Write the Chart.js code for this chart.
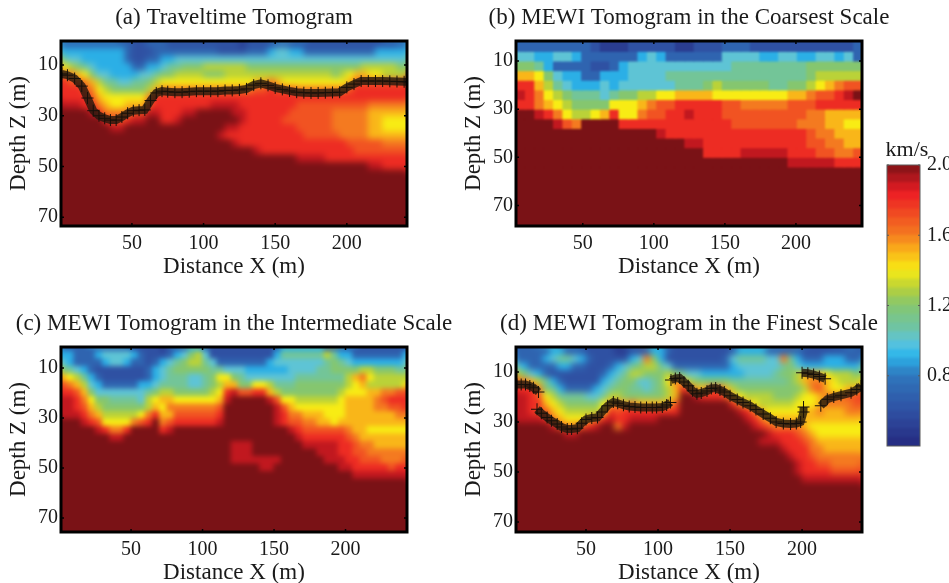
<!DOCTYPE html>
<html>
<head>
<meta charset="utf-8">
<script src="https://cdn.jsdelivr.net/npm/chart.js@4"></script>
<style>
  html, body { margin: 0; background: #fff; }
  body { position: relative; width: 949px; height: 583px; overflow: hidden; }
  canvas { position: absolute; filter: blur(0.4px); }
</style>
</head>
<body>
<canvas id="panelA"></canvas>
<canvas id="panelB"></canvas>
<canvas id="panelC"></canvas>
<canvas id="panelD"></canvas>
<canvas id="colorbar"></canvas>
<script>
// Axis ticks
const distanceTicks = [50, 100, 150, 200];
const depthTicks = [10, 30, 50, 70];
const velocityTicks = [0.8, 1.2, 1.6, 2.0];

// Cell centres (m) and row edges (m). a, c, d use the fine grid, b the coarse one
const fineX = [2.5,7.5,12.5,17.5,22.5,27.5,32.5,37.5,42.5,47.5,52.5,57.5,62.5,67.5,72.5,77.5,82.5,87.5,92.5,97.5,102.5,107.5,112.5,117.5,122.5,127.5,132.5,137.5,142.5,147.5,152.5,157.5,162.5,167.5,172.5,177.5,182.5,187.5,192.5,197.5,202.5,207.5,212.5,217.5,222.5,227.5,232.5,237.5,242.5];
const fineEdges = [0,3,6,9,12,15,18,21,24,27,30,33,36,39,42,45,48,51,54];
const coarseX = [6.3,12.9,19.5,26.1,32.7,39.3,45.9,52.5,59.1,65.7,72.3,78.9,85.5,92.1,98.7,105.3,111.9,118.5,125.1,131.7,138.3,144.9,151.5,158.1,164.7,171.3,177.9,184.5,191.1,197.7,204.3,210.9,217.5,224.1,230.7,237.3,243.9];
const coarseEdges = [2,6,10,14,18,22,26,30,34,38,42,46,50,54];
const bottomDepth = 80;

// Velocities in tenths of km/s, one row per depth
const traveltimeRows = [
[7,7,7,7,7,7,7,7,7,7,6,6,7,7,7,6,6,6,6,6,6,6,6,6,6,5,6,6,6,6,7,7,6,6,6,6,6,6,6,6,6,6,6,6,6,6,6,7,7],
[9,9,9,9,9,9,9,9,9,7,6,6,6,7,7,7,7,7,7,7,7,7,6,6,6,6,7,7,7,9,10,10,9,9,7,7,7,7,7,7,7,7,7,7,9,9,9,9,9],
[11,10,10,9,9,9,9,9,9,7,6,6,7,7,9,9,10,10,10,10,10,10,10,10,10,10,10,10,10,10,10,10,10,10,10,10,10,10,10,10,10,10,10,10,10,10,10,10,10],
[14,13,12,11,10,9,9,9,9,9,7,7,9,9,10,11,11,12,12,12,13,13,13,13,13,13,12,12,12,12,12,12,12,12,12,12,12,12,12,12,12,12,13,13,13,13,13,12,12],
[16,16,15,14,12,10,10,9,9,9,9,10,10,11,12,12,13,13,13,13,12,12,12,13,13,13,13,13,13,13,13,13,13,13,13,13,13,13,12,13,14,15,15,14,14,13,13,13,13],
[18,17,17,16,15,13,11,11,10,10,11,11,12,13,14,14,14,14,14,14,14,14,14,14,14,14,14,15,15,16,15,14,14,14,14,14,14,14,14,14,15,17,17,17,17,17,17,17,17],
[18,18,18,17,16,14,13,12,12,12,12,12,13,15,16,16,16,16,16,16,16,16,16,16,16,16,16,17,17,18,17,17,17,16,16,16,16,16,16,16,17,18,18,18,18,18,18,18,18],
[18,18,18,18,17,15,14,14,14,14,14,14,16,18,18,18,18,18,18,18,18,18,18,18,18,18,18,18,18,18,18,18,18,18,18,18,18,18,18,18,18,18,18,18,18,18,18,18,18],
[19,19,19,18,18,16,15,14,14,15,15,15,17,18,18,18,18,18,18,18,18,19,19,19,19,18,18,18,18,18,18,18,18,17,17,17,17,17,17,17,17,17,17,16,16,16,16,16,16],
[20,20,20,20,19,18,16,16,16,16,17,17,19,19,18,18,18,19,19,20,20,20,20,20,19,19,18,18,18,18,18,18,17,17,17,17,17,17,16,16,16,16,16,15,15,15,15,15,15],
[20,20,20,20,20,20,18,17,17,18,19,19,20,20,18,18,19,20,20,20,20,20,20,20,20,19,18,18,18,18,18,17,17,17,17,17,17,17,16,16,16,16,16,15,15,14,14,14,14],
[20,20,20,20,20,20,20,19,19,20,20,20,20,20,20,20,20,20,20,20,20,20,20,19,19,18,18,18,18,18,18,18,18,17,17,17,17,17,16,16,16,16,16,15,15,14,14,14,14],
[20,20,20,20,20,20,20,20,20,20,20,20,20,20,20,20,20,20,20,20,20,20,19,18,18,18,18,18,18,18,18,18,18,18,17,17,17,17,17,16,16,16,16,15,15,15,15,15,15],
[20,20,20,20,20,20,20,20,20,20,20,20,20,20,20,20,20,20,20,20,20,20,20,20,19,18,18,18,18,18,18,18,18,18,18,18,18,18,18,18,17,17,17,17,17,16,16,16,16],
[20,20,20,20,20,20,20,20,20,20,20,20,20,20,20,20,20,20,20,20,20,20,20,20,20,20,20,19,18,18,18,18,18,18,18,18,18,18,18,18,18,17,17,17,17,17,17,17,17],
[20,20,20,20,20,20,20,20,20,20,20,20,20,20,20,20,20,20,20,20,20,20,20,20,20,20,20,20,20,20,20,20,20,19,19,19,19,18,18,18,18,18,18,18,18,18,18,18,18],
[20,20,20,20,20,20,20,20,20,20,20,20,20,20,20,20,20,20,20,20,20,20,20,20,20,20,20,20,20,20,20,20,20,20,20,20,20,20,20,20,20,20,20,19,19,18,18,18,18]
];

const coarseRows = [
[7,7,7,7,7,7,7,7,6,5,5,5,6,6,6,6,6,5,5,6,6,6,7,7,7,6,6,6,6,6,6,6,6,6,6,6,7],
[10,10,9,9,10,10,9,7,7,7,7,7,7,9,10,9,7,7,7,7,7,7,10,10,10,10,9,9,10,10,9,9,10,10,9,10,7],
[12,12,11,9,7,7,7,7,6,6,7,9,10,10,10,10,10,10,10,10,10,10,10,11,11,11,11,11,11,11,11,12,12,12,12,12,12],
[15,15,14,12,10,9,9,7,7,9,9,9,10,10,10,10,11,11,11,11,11,11,11,11,11,11,11,11,11,11,11,12,13,13,13,13,13],
[18,18,15,13,11,10,9,9,9,10,9,10,10,10,10,10,10,11,11,11,12,13,12,12,12,12,12,11,11,12,12,13,14,15,16,17,17],
[19,18,16,14,13,12,11,11,11,10,11,12,12,13,13,14,14,15,15,15,15,14,14,14,14,14,14,14,14,15,15,16,17,17,18,19,20],
[18,18,16,15,14,13,12,12,12,12,14,14,14,15,16,17,17,18,18,18,18,18,17,17,16,16,16,16,16,17,17,17,18,18,18,18,18],
[20,20,19,18,16,14,13,13,14,15,18,14,14,16,17,17,18,18,19,18,18,18,17,17,17,17,17,17,17,17,17,16,16,15,15,15,15],
[20,20,20,20,19,17,16,20,20,20,20,18,18,18,18,18,18,18,18,18,18,18,18,17,17,17,17,17,17,17,16,16,16,15,15,14,14],
[20,20,20,20,20,20,20,20,20,20,20,20,20,20,20,19,18,18,18,18,18,18,18,18,18,18,18,18,18,18,18,17,16,16,15,15,15],
[20,20,20,20,20,20,20,20,20,20,20,20,20,20,20,20,20,20,19,19,18,18,18,18,18,18,18,18,18,18,18,17,17,16,16,15,15],
[20,20,20,20,20,20,20,20,20,20,20,20,20,20,20,20,20,20,20,20,18,18,18,18,19,19,19,19,19,18,18,18,17,17,16,16,17],
[20,20,20,20,20,20,20,20,20,20,20,20,20,20,20,20,20,20,20,20,20,20,20,20,20,20,20,20,20,19,19,19,19,19,18,18,18]
];

const intermediateRows = [
[7,7,7,7,7,7,7,7,7,7,6,6,6,6,5,6,6,7,9,9,7,6,6,6,6,6,6,6,6,6,7,9,9,9,9,9,9,7,7,7,6,6,6,6,6,6,6,6,6],
[9,9,7,7,7,9,10,10,10,10,9,7,6,6,6,7,9,10,12,13,10,6,6,6,6,6,6,6,6,6,9,11,11,11,11,11,11,13,11,9,9,7,7,7,7,7,7,7,9],
[10,9,7,7,7,7,9,10,10,9,7,7,6,7,9,10,11,12,13,13,11,10,7,7,7,7,7,7,7,9,10,10,10,10,10,10,10,11,12,11,10,9,9,9,9,9,9,9,10],
[12,11,10,9,7,6,6,6,6,6,6,6,7,9,10,11,12,12,12,12,12,11,11,10,10,10,9,9,9,9,9,9,10,10,10,10,11,11,12,12,12,12,13,13,12,12,12,11,11],
[15,14,13,11,9,7,6,6,6,6,6,6,7,9,10,11,11,11,10,10,11,12,14,14,12,11,10,10,10,10,10,10,10,11,11,11,11,11,11,11,13,15,16,14,13,13,13,13,13],
[17,16,15,13,10,9,7,7,7,7,7,9,9,10,11,11,11,11,10,10,11,12,13,15,15,12,12,14,14,13,11,11,11,12,12,12,12,12,12,12,13,14,15,13,13,13,13,13,14],
[18,18,17,15,12,10,10,10,10,10,10,10,11,12,13,13,12,12,12,12,12,13,14,18,19,17,17,18,18,15,13,12,12,12,12,12,12,12,12,13,14,14,14,15,15,16,16,17,17],
[19,19,18,16,14,12,12,11,11,11,11,10,13,14,15,15,14,14,14,14,14,14,15,19,20,20,20,20,20,19,17,14,14,13,13,13,13,13,13,14,15,15,15,15,16,17,18,18,18],
[19,19,18,17,15,13,12,12,12,12,12,12,13,15,14,16,16,16,16,16,16,16,17,20,20,20,20,20,20,20,19,17,15,14,14,14,14,14,14,14,15,15,15,15,16,16,17,17,18],
[19,19,19,18,16,15,13,13,13,13,13,14,16,18,15,15,17,17,17,17,17,17,18,20,20,20,20,20,20,20,19,18,16,16,15,15,15,14,14,14,15,15,15,15,15,15,15,16,16],
[20,20,20,19,18,17,14,14,14,14,16,17,18,20,16,17,18,18,18,18,18,18,19,20,20,20,20,20,20,20,19,18,17,17,16,16,15,15,14,15,15,15,15,15,15,15,15,15,15],
[20,20,20,20,20,19,18,16,16,18,20,20,20,20,18,19,20,20,20,20,20,20,20,20,20,20,20,20,20,20,20,20,19,18,17,17,17,17,17,17,16,15,15,14,14,14,14,14,14],
[20,20,20,20,20,20,20,19,19,20,20,20,20,20,20,20,20,20,20,20,20,20,20,20,20,20,20,20,20,20,20,20,20,19,18,18,18,18,18,18,17,16,15,15,15,15,15,15,15],
[20,20,20,20,20,20,20,20,20,20,20,20,20,20,20,20,20,20,20,20,20,20,20,20,19,19,19,20,20,20,20,20,20,20,19,19,19,19,19,18,18,17,16,16,15,15,15,15,15],
[20,20,20,20,20,20,20,20,20,20,20,20,20,20,20,20,20,20,20,20,20,20,20,20,19,19,19,20,20,20,20,20,20,20,20,20,19,19,19,18,18,17,17,16,16,16,16,16,16],
[20,20,20,20,20,20,20,20,20,20,20,20,20,20,20,20,20,20,20,20,20,20,20,20,19,19,19,19,19,19,19,20,20,20,20,20,20,19,19,19,18,18,17,17,17,16,16,16,17],
[20,20,20,20,20,20,20,20,20,20,20,20,20,20,20,20,20,20,20,20,20,20,20,20,20,20,20,20,19,19,20,20,20,20,20,20,20,20,20,19,19,18,18,18,18,18,17,18,18],
[20,20,20,20,20,20,20,20,20,20,20,20,20,20,20,20,20,20,20,20,20,20,20,20,20,20,20,20,20,20,20,20,20,20,20,20,20,20,20,20,20,19,19,19,19,19,19,19,19]
];

const finestRows = [
[7,7,7,7,7,9,9,7,7,7,6,6,6,6,5,5,6,6,7,9,9,7,6,6,6,6,6,6,6,6,7,9,9,9,9,7,7,7,7,7,6,6,6,6,6,6,7,7,6],
[7,7,7,7,9,10,11,11,10,9,7,6,6,6,6,6,9,10,16,12,9,6,6,6,6,6,6,6,6,7,10,11,11,11,11,10,10,16,11,9,7,7,7,9,9,9,7,7,7],
[10,9,7,7,7,7,9,9,7,7,6,6,6,7,9,10,11,12,13,13,11,10,7,7,7,7,7,7,7,7,9,10,10,10,10,10,10,11,12,10,9,9,9,9,9,9,9,9,10],
[13,12,10,9,7,6,6,6,6,6,6,6,7,9,10,11,13,13,12,12,12,13,12,11,10,10,9,9,9,9,9,9,10,10,10,10,11,12,12,13,15,15,15,14,13,13,13,12,12],
[16,16,15,13,11,9,7,6,6,6,6,6,9,10,11,12,12,10,10,11,12,14,16,15,13,12,12,12,12,12,11,11,11,11,11,11,11,11,12,13,15,16,16,15,14,13,13,13,14],
[18,18,18,16,12,11,9,7,7,7,7,9,10,11,12,12,11,11,10,11,12,13,15,18,17,15,15,17,17,15,13,12,12,12,12,12,12,12,12,12,13,16,17,15,14,14,15,15,16],
[19,19,18,17,14,13,11,11,11,11,10,10,11,13,13,12,12,12,12,12,12,13,15,20,20,19,18,18,18,17,15,14,13,13,13,13,12,12,12,13,14,14,15,16,16,16,17,17,18],
[19,19,18,18,15,14,13,12,12,12,12,12,14,15,16,15,16,15,15,15,15,15,17,20,20,20,20,20,20,20,18,16,15,14,13,13,13,13,13,14,14,14,15,16,16,16,16,17,17],
[19,19,18,17,17,15,14,13,13,13,13,13,14,18,17,18,18,18,18,18,18,18,18,20,20,20,20,20,20,20,20,19,18,16,15,14,14,14,14,14,15,15,16,15,15,15,16,16,16],
[19,19,19,19,18,16,15,14,14,14,15,16,18,19,18,18,19,19,19,19,20,20,20,20,20,20,20,20,20,20,20,20,19,18,16,15,15,15,15,15,15,15,15,15,15,15,15,15,15],
[20,20,20,20,20,19,17,16,16,17,18,19,20,20,16,19,20,20,20,20,20,20,20,20,20,20,20,20,20,20,20,20,20,19,18,17,16,16,16,16,15,14,14,14,14,14,14,14,14],
[20,20,20,20,20,20,20,19,19,20,20,20,20,20,20,20,20,20,20,20,20,20,20,20,20,20,20,20,20,20,20,20,20,20,20,19,18,18,18,17,16,15,14,14,14,14,14,14,14],
[20,20,20,20,20,20,20,20,20,20,20,20,20,20,20,20,20,20,20,20,20,20,20,20,20,20,20,20,20,20,20,20,20,20,19,19,19,18,18,18,17,16,15,15,15,15,15,15,15],
[20,20,20,20,20,20,20,20,20,20,20,20,20,20,20,20,20,20,20,20,20,20,20,20,20,20,20,20,20,20,20,20,20,20,20,20,20,19,18,18,18,16,16,15,15,15,15,15,15],
[20,20,20,20,20,20,20,20,20,20,20,20,20,20,20,20,20,20,20,20,20,20,20,20,20,20,20,20,20,20,20,20,20,20,20,20,20,20,19,18,18,17,16,16,16,16,16,16,16],
[20,20,20,20,20,20,20,20,20,20,20,20,20,20,20,20,20,20,20,20,20,20,20,20,20,20,20,20,20,20,20,20,20,20,20,20,20,20,20,19,18,18,17,17,16,16,16,16,17],
[20,20,20,20,20,20,20,20,20,20,20,20,20,20,20,20,20,20,20,20,20,20,20,20,20,20,20,20,20,20,20,20,20,20,20,20,20,20,20,19,18,18,18,18,17,17,17,17,18],
[20,20,20,20,20,20,20,20,20,20,20,20,20,20,20,20,20,20,20,20,20,20,20,20,20,20,20,20,20,20,20,20,20,20,20,20,20,20,20,20,19,19,19,19,19,19,19,19,19]
];

// First-arrival picks, drawn as plus marks
const picksAX = [1,5,10,15,19,23,27,31,35,39,43,47,51,55,59,63,67,71,75,80,85,90,95,100,105,110,115,120,125,130,135,140,145,150,155,160,165,170,175,180,185,190,195,200,205,210,215,220,225,230,235,240,243];
const picksAZ = [13.5,14,15.3,18.3,23,28,30,31,31.7,31.7,30.5,29,28,27.8,27.7,24,21,20.3,20.5,20.7,20.7,20.5,20.3,20.3,20.3,20.3,20,20,19.8,19.4,17.9,17.2,18,19,19.6,20.2,20.7,20.9,21,21,20.9,20.8,20.7,18.8,17.5,16.3,16.3,16.3,16.3,16.4,16.5,16.6,16.6];
const picksD1X = [2,5,8,11,13.5,17];
const picksD1Z = [15,15,15,15.6,16.3,18];
const picksD2X = [16,19,23,26,30,33,37,40,44,47,50,54,58,61,65,69,72,76,80,84,88,92,96,99,103,106,108.6];
const picksD2Z = [24.9,26.5,28.2,29.5,30.8,32,32.8,32.8,32.5,30.5,29,28.4,28.2,26,23.5,22,22.5,23.3,23.8,24,24.2,24.2,24.2,24.2,24,23.2,22.2];
const picksD3X = [109,112,115,118,121,124,127,130,134,137,140,143,146,150,155,159,164,168,173,178,182,187,192,196,199,201,201];
const picksD3Z = [13.2,12.6,12.4,14,15.5,17.5,18.7,18.4,17.6,16.6,16.4,17.2,18,19.5,21,22.2,23.5,25,26.8,28.5,30,30.6,30.8,30.6,30,26,24];
const picksD4X = [200,204,208,212,216];
const picksD4Z = [10.3,10.5,11,11.8,12.7];
const picksD5X = [213,217.5,222,227,234,238,241];
const picksD5Z = [23.5,20.9,20,19.3,18.3,17,15.6];

// Colour bar bins (km/s), lower edge of each bin
const colorbarLevels = [0.4,0.45,0.5,0.55,0.6,0.65,0.7,0.75,0.8,0.85,0.9,0.95,1,1.05,1.1,1.15,1.2,1.25,1.3,1.35,1.4,1.45,1.5,1.55,1.6,1.65,1.7,1.75,1.8,1.85,1.9,1.95];
const colorStops = [
  [0.4, [37, 41, 127]], [0.59, [47, 79, 162]], [0.8, [47, 119, 189]],
  [0.91, [43, 181, 234]], [0.99, [92, 196, 221]], [1.06, [108, 196, 168]],
  [1.2, [133, 198, 111]], [1.29, [180, 207, 60]], [1.4, [248, 236, 20]],
  [1.54, [249, 160, 27]], [1.6, [244, 122, 32]], [1.84, [236, 28, 36]],
  [2.0, [122, 18, 22]]
];

const SERIF = "'Liberation Serif', 'Times New Roman', serif";

function velocityColor(v) {
  for (let i = 1; i < colorStops.length; i++) {
    const [v1, c1] = colorStops[i];
    if (v <= v1) {
      const [v0, c0] = colorStops[i - 1];
      const t = (v - v0) / (v1 - v0);
      return `rgb(${c0.map((c, k) => Math.round(c + (c1[k] - c) * t)).join(",")})`;
    }
  }
  return "rgb(122,18,22)";
}

function cellDatasets(rows, xs, edges) {
  const style = {
    type: "bar",
    order: 1,
    grouped: false,
    barPercentage: 1,
    categoryPercentage: 1,
    borderWidth: 0,
    inflateAmount: 0.5,
    backgroundColor: (ctx) => velocityColor(ctx.raw.v / 10),
  };
  const sets = rows.map((row, r) => ({
    ...style,
    data: row.map((v, i) => ({ x: xs[i], y: [edges[r], edges[r + 1]], v })),
  }));
  // everything below the last row sits at the top of the colour scale
  sets.push({
    ...style,
    data: xs.map((x) => ({ x, y: [edges[rows.length], bottomDepth], v: 20 })),
  });
  return sets;
}

function pickDataset(xs, zs) {
  return {
    type: "scatter",
    order: 0,
    showLine: true,
    borderColor: "rgba(34,24,14,0.8)",
    borderWidth: 8,
    pointStyle: "cross",
    pointRadius: 6,
    pointBorderWidth: 1,
    pointBorderColor: "#17100a",
    data: xs.map((x, i) => ({ x, y: zs[i] })),
  };
}

// Soften the cell mosaic inside the plot, like the interpolated shading of the original
function smoothPlot(chart, radius) {
  const a = chart.chartArea;
  const pad = 10;
  const off = document.createElement("canvas");
  off.width = a.width + pad * 2;
  off.height = a.height + pad * 2;
  const g = off.getContext("2d");
  g.drawImage(chart.canvas, a.left, a.top, a.width, a.height, 0, 0, off.width, off.height);
  g.drawImage(chart.canvas, a.left, a.top, a.width, a.height, pad, pad, a.width, a.height);
  const ctx = chart.ctx;
  ctx.save();
  ctx.beginPath();
  ctx.rect(a.left, a.top, a.width, a.height);
  ctx.clip();
  ctx.filter = `blur(${radius}px)`;
  ctx.drawImage(off, a.left - pad, a.top - pad);
  ctx.restore();
}

const smoothing = {
  id: "smoothing",
  beforeDatasetsDraw(chart) {
    chart.$smoothed = false;
  },
  beforeDatasetDraw(chart, args, opts) {
    if (args.meta.type === "scatter" && !chart.$smoothed) {
      smoothPlot(chart, opts.radius);
      chart.$smoothed = true;
    }
  },
  afterDatasetsDraw(chart, args, opts) {
    if (!chart.$smoothed) smoothPlot(chart, opts.radius);
  },
};

// Box frame with inward ticks on all four sides
const boxFrame = {
  id: "boxFrame",
  afterDraw(chart, args, opts) {
    const { ctx, chartArea: a, scales } = chart;
    ctx.save();
    ctx.strokeStyle = opts.color;
    ctx.lineWidth = opts.tickWidth;
    ctx.beginPath();
    const len = opts.tickLength;
    if (scales.x.options.display) {
      scales.x.ticks.forEach((t) => {
        const px = scales.x.getPixelForValue(t.value);
        ctx.moveTo(px, a.bottom); ctx.lineTo(px, a.bottom - len);
        ctx.moveTo(px, a.top); ctx.lineTo(px, a.top + len);
      });
    }
    scales.y.ticks.forEach((t) => {
      const py = scales.y.getPixelForValue(t.value);
      ctx.moveTo(a.left, py); ctx.lineTo(a.left + len, py);
      ctx.moveTo(a.right, py); ctx.lineTo(a.right - len, py);
    });
    ctx.stroke();
    ctx.lineWidth = opts.width;
    ctx.strokeRect(a.left, a.top, a.width, a.height);
    ctx.restore();
  },
};

// Empty axis, only there to reserve a margin so the chart title centres on the whole canvas
function spacerAxis(position, width) {
  return {
    position,
    display: true,
    grid: { display: false, drawTicks: false },
    border: { display: false },
    ticks: { display: false },
    afterFit: (s) => { s.width = width; },
  };
}

function drawPanel(id, cfg) {
  const canvas = document.getElementById(id);
  const marginLeft = 60, marginRight = 60, marginBottom = 55;
  canvas.width = cfg.right - cfg.left + marginLeft + marginRight;
  canvas.height = cfg.bottom + marginBottom - cfg.canvasTop;
  canvas.style.left = cfg.left - marginLeft + "px";
  canvas.style.top = cfg.canvasTop + "px";
  canvas.style.width = canvas.width + "px";
  canvas.style.height = canvas.height + "px";
  new Chart(canvas, {
    type: "bar",
    data: { datasets: cfg.datasets },
    plugins: [smoothing, boxFrame],
    options: {
      responsive: false,
      animation: false,
      events: [],
      scales: {
        x: {
          type: "linear",
          offset: false,
          min: cfg.xMin,
          max: cfg.xMax,
          grid: { display: false, drawTicks: false },
          border: { display: false },
          afterFit: (s) => { s.height = marginBottom; },
          afterBuildTicks: (s) => { s.ticks = distanceTicks.map((value) => ({ value })); },
          ticks: {
            autoSkip: false,
            maxRotation: 0,
            padding: 6,
            color: "#1a1a1a",
            font: { family: SERIF, size: 20 },
            callback: (v) => v,
          },
          title: {
            display: true,
            text: "Distance X (m)",
            color: "#1a1a1a",
            padding: { top: 0, bottom: 0 },
            font: { family: SERIF, size: 23 },
          },
        },
        y: {
          type: "linear",
          reverse: true,
          min: cfg.zMin,
          max: cfg.zMax,
          grid: { display: false, drawTicks: false },
          border: { display: false },
          afterFit: (s) => { s.width = marginLeft; },
          afterBuildTicks: (s) => { s.ticks = depthTicks.map((value) => ({ value })); },
          ticks: {
            autoSkip: false,
            padding: 3,
            color: "#1a1a1a",
            font: { family: SERIF, size: 20 },
            callback: (v) => v,
          },
          title: {
            display: true,
            text: "Depth Z (m)",
            color: "#1a1a1a",
            padding: { top: 4, bottom: 0 },
            font: { family: SERIF, size: 23 },
          },
        },
        marginRight: spacerAxis("right", marginRight),
      },
      plugins: {
        legend: { display: false },
        tooltip: { enabled: false },
        smoothing: { radius: cfg.blur },
        boxFrame: { color: "#000", width: 3, tickWidth: 1.5, tickLength: 3 },
        title: {
          display: true,
          text: cfg.title,
          color: "#1a1a1a",
          font: { family: SERIF, size: 23, weight: "normal", lineHeight: 1.2 },
          padding: { top: 4.2, bottom: 9.2 },
        },
      },
    },
  });
}

drawPanel("panelA", {
  title: "(a) Traveltime Tomogram",
  left: 61, right: 407, top: 41, bottom: 226, canvasTop: 0,
  xMin: 0.5, xMax: 242, zMin: 0.5, zMax: 73.5, blur: 3,
  datasets: [...cellDatasets(traveltimeRows, fineX, fineEdges), pickDataset(picksAX, picksAZ)],
});

drawPanel("panelB", {
  title: "(b) MEWI Tomogram in the Coarsest Scale",
  left: 516, right: 862, top: 41, bottom: 226, canvasTop: 0,
  xMin: 3, xMax: 246.5, zMin: 1.7, zMax: 78.5, blur: 0.9,
  datasets: cellDatasets(coarseRows, coarseX, coarseEdges),
});

drawPanel("panelC", {
  title: "(c) MEWI Tomogram in the Intermediate Scale",
  left: 61, right: 407, top: 347, bottom: 532, canvasTop: 306,
  xMin: 1, xMax: 243, zMin: 1.6, zMax: 75.6, blur: 2.5,
  datasets: cellDatasets(intermediateRows, fineX, fineEdges),
});

drawPanel("panelD", {
  title: "(d) MEWI Tomogram in the Finest Scale",
  left: 516, right: 862, top: 347, bottom: 532, canvasTop: 306,
  xMin: 1.4, xMax: 241.6, zMin: 0, zMax: 74, blur: 3,
  datasets: [
    ...cellDatasets(finestRows, fineX, fineEdges),
    pickDataset(picksD1X, picksD1Z),
    pickDataset(picksD2X, picksD2Z),
    pickDataset(picksD3X, picksD3Z),
    pickDataset(picksD4X, picksD4Z),
    pickDataset(picksD5X, picksD5Z),
  ],
});

// Colour bar
const barCanvas = document.getElementById("colorbar");
barCanvas.style.left = "865px";
barCanvas.style.top = "130px";
barCanvas.width = 84;
barCanvas.height = 335;
barCanvas.style.width = "84px";
barCanvas.style.height = "335px";
new Chart(barCanvas, {
  type: "bar",
  data: {
    labels: ["km/s"],
    datasets: colorbarLevels.map((lo, i) => ({
      grouped: false,
      barPercentage: 1,
      categoryPercentage: 1,
      borderWidth: 0,
      inflateAmount: 0.5,
      backgroundColor: velocityColor(lo + 0.025),
      data: [[lo, colorbarLevels[i + 1] || 2.0]],
    })),
  },
  plugins: [smoothing, boxFrame],
  options: {
    responsive: false,
    animation: false,
    events: [],
    layout: { padding: { bottom: 3 } },
    scales: {
      x: { display: false },
      y: {
        position: "right",
        min: 0.4,
        max: 2.0,
        grid: { display: false, drawTicks: false },
        border: { display: false },
        afterFit: (s) => { s.width = 29; },
        afterBuildTicks: (s) => { s.ticks = velocityTicks.map((value) => ({ value })); },
        ticks: {
          autoSkip: false,
          padding: 7,
          color: "#1a1a1a",
          font: { family: SERIF, size: 20 },
          callback: (v) => v.toFixed(1),
        },
      },
      marginLeft: spacerAxis("left", 22),
    },
    plugins: {
      legend: { display: false },
      tooltip: { enabled: false },
      smoothing: { radius: 1.5 },
      boxFrame: { color: "#5a5a5a", width: 1, tickWidth: 1, tickLength: 2 },
      title: {
        display: true,
        text: "km/s",
        color: "#1a1a1a",
        font: { family: SERIF, size: 22, weight: "normal", lineHeight: 1.2 },
        padding: { top: 6.6, bottom: 2 },
      },
    },
  },
});
</script>
</body>
</html>
